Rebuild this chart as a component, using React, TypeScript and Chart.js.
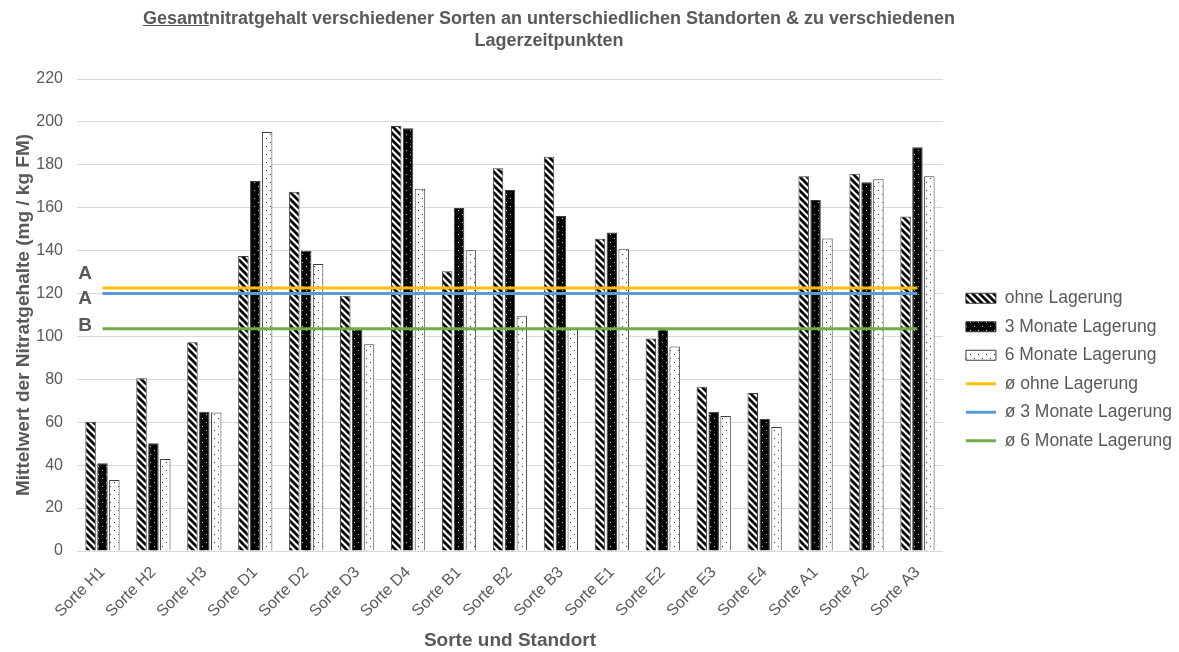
import React, { useEffect, useRef } from 'react';
import { Chart, registerables } from 'chart.js';

Chart.register(...registerables);

// ---------- data ----------
const categories = [
  'Sorte H1', 'Sorte H2', 'Sorte H3', 'Sorte D1', 'Sorte D2', 'Sorte D3', 'Sorte D4',
  'Sorte B1', 'Sorte B2', 'Sorte B3', 'Sorte E1', 'Sorte E2', 'Sorte E3', 'Sorte E4',
  'Sorte A1', 'Sorte A2', 'Sorte A3',
];
const ohneLagerung = [60.3, 80.5, 97.3, 137.5, 167.5, 119.0, 198.1, 130.4, 178.4, 183.8, 145.5, 99.0, 76.5, 73.7, 174.7, 175.8, 155.9];
const monate3Lagerung = [40.9, 50.2, 64.9, 172.5, 139.9, 103.3, 197.0, 159.9, 168.3, 156.2, 148.4, 103.3, 64.9, 61.5, 163.6, 171.9, 188.2];
const monate6Lagerung = [33.1, 42.9, 64.5, 195.3, 133.8, 96.4, 168.8, 140.2, 109.4, 103.3, 140.9, 95.3, 62.9, 57.8, 145.6, 173.3, 174.7];
const barSeriesNames = ['ohne Lagerung', '3 Monate Lagerung', '6 Monate Lagerung'];
const meanSeriesNames = ['ø ohne Lagerung', 'ø 3 Monate Lagerung', 'ø 6 Monate Lagerung'];
const meanValues = [122.6, 120.0, 103.6];
const meanLetters = ['A', 'A', 'B'];
const yMin = 0;
const yMax = 220;
const yStep = 20;
const titleLine1Underlined = 'Gesamt';
const titleLine1Rest = 'nitratgehalt verschiedener Sorten an unterschiedlichen Standorten & zu verschiedenen';
const titleLine2 = 'Lagerzeitpunkten';
const yAxisTitle = 'Mittelwert der Nitratgehalte (mg / kg FM)';
const xAxisTitle = 'Sorte und Standort';

// ---------- styling ----------
const FONT = '"Liberation Sans", Arial, sans-serif';
const TEXT = '#595959';
const GRID = '#d9d9d9';
const BORDER = '#3c3c3c';
const LINE_COLORS = ['#FFC000', '#5B9BD5', '#70AD47'];
const LETTER_OFFSETS = [-14, 5, -3];

function makePattern(kind: string): CanvasPattern | string {
  const c = document.createElement('canvas');
  const ctx = c.getContext('2d');
  if (!ctx) return '#888';
  if (kind === 'stripes') {
    const s = 7;
    c.width = s; c.height = s;
    ctx.fillStyle = '#ffffff';
    ctx.fillRect(0, 0, s, s);
    ctx.strokeStyle = '#000000';
    ctx.lineWidth = 2.8;
    ctx.beginPath();
    for (const k of [-s, 0, s]) {
      ctx.moveTo(k - 1, -1);
      ctx.lineTo(k + s + 1, s + 1);
    }
    ctx.stroke();
  } else if (kind === 'darkdots') {
    c.width = 8; c.height = 8;
    ctx.fillStyle = '#000000';
    ctx.fillRect(0, 0, 8, 8);
    ctx.fillStyle = '#d0d0d0';
    ctx.fillRect(2, 2, 1, 1);
    ctx.fillRect(6, 6, 1, 1);
  } else {
    c.width = 8; c.height = 8;
    ctx.fillStyle = '#ffffff';
    ctx.fillRect(0, 0, 8, 8);
    ctx.fillStyle = '#333333';
    ctx.fillRect(2, 2, 1, 1);
    ctx.fillRect(6, 6, 1, 1);
  }
  const p = ctx.createPattern(c, 'repeat');
  return p || '#888';
}

const letterPlugin = {
  id: 'meanLetters',
  afterDatasetsDraw(chart: any) {
    const y = chart.scales.y;
    const ctx = chart.ctx;
    ctx.save();
    ctx.fillStyle = TEXT;
    ctx.font = `bold 19px ${FONT}`;
    ctx.textAlign = 'center';
    ctx.textBaseline = 'middle';
    meanLetters.forEach((letter, i) => {
      ctx.fillText(letter, chart.chartArea.left + 8, y.getPixelForValue(meanValues[i]) + LETTER_OFFSETS[i]);
    });
    ctx.restore();
  },
};

const legendShiftPlugin = {
  id: 'legendShift',
  afterLayout(chart: any) {
    const lg = chart.legend;
    if (lg) {
      lg.left += 12;
      lg.right += 12;
      lg.top += 4;
      lg.bottom += 4;
    }
  },
};

export default function App() {
  const canvasRef = useRef<HTMLCanvasElement | null>(null);

  useEffect(() => {
    document.body.style.margin = '0';
    const canvas = canvasRef.current;
    if (!canvas) return;
    const patterns = [makePattern('stripes'), makePattern('darkdots'), makePattern('lightdots')];
    const barValues = [ohneLagerung, monate3Lagerung, monate6Lagerung];

    const barDatasets = barSeriesNames.map((name, i) => ({
      type: 'bar' as const,
      label: name,
      data: barValues[i],
      backgroundColor: patterns[i],
      borderColor: BORDER,
      borderWidth: 1,
      pointStyle: 'rect',
      categoryPercentage: 0.7,
      barPercentage: 0.88,
      order: 2,
    }));
    const lineDatasets = meanSeriesNames.map((name, i) => ({
      type: 'line' as const,
      label: name,
      data: categories.map(() => meanValues[i]),
      borderColor: LINE_COLORS[i],
      backgroundColor: LINE_COLORS[i],
      borderWidth: 3,
      pointRadius: 0,
      pointHoverRadius: 0,
      pointStyle: 'line',
      fill: false,
      order: 1,
    }));

    const chart = new Chart(canvas, {
      type: 'bar',
      data: { labels: categories, datasets: [...barDatasets, ...lineDatasets] as any },
      options: {
        animation: false,
        responsive: false,
        maintainAspectRatio: false,
        layout: { padding: { top: 79, left: 0, right: 9, bottom: 0 } },
        plugins: {
          title: { display: false },
          tooltip: { enabled: false },
          legend: {
            position: 'right',
            align: 'center',
            labels: {
              usePointStyle: true,
              pointStyleWidth: 30,
              boxHeight: 10,
              padding: 11,
              color: TEXT,
              font: { family: FONT, size: 17.5 },
              sort: (a: any, b: any) => a.datasetIndex - b.datasetIndex,
            },
          },
        },
        scales: {
          x: {
            grid: { display: false },
            border: { display: true, color: GRID },
            ticks: {
              color: TEXT,
              font: { family: FONT, size: 16 },
              minRotation: 45,
              maxRotation: 45,
              padding: 4,
            },
            title: {
              display: true,
              text: xAxisTitle,
              color: TEXT,
              font: { family: FONT, size: 19, weight: 'bold' },
              padding: { top: 5, bottom: 0 },
            },
            afterFit: (scale: any) => { scale.height = 652 - 551; },
          },
          y: {
            min: yMin,
            max: yMax,
            grid: { color: GRID, drawTicks: false },
            border: { display: false },
            ticks: {
              stepSize: yStep,
              color: TEXT,
              font: { family: FONT, size: 16 },
              padding: 14,
            },
            title: {
              display: true,
              text: yAxisTitle,
              color: TEXT,
              font: { family: FONT, size: 19, weight: 'bold' },
              padding: { top: 12, bottom: 0 },
            },
            afterFit: (scale: any) => { scale.width = 77; },
          },
        },
      },
      plugins: [letterPlugin, legendShiftPlugin],
    });
    return () => chart.destroy();
  }, []);

  return (
    <div style={{ position: 'relative', width: 1179, height: 652, background: '#fff', overflow: 'hidden' }}>
      <canvas ref={canvasRef} width={1179} height={652} style={{ position: 'absolute', left: 0, top: 0 }} />
      <div
        style={{
          position: 'absolute',
          left: 0,
          top: 7,
          width: 1098,
          textAlign: 'center',
          fontFamily: FONT,
          fontWeight: 'bold',
          fontSize: 18,
          lineHeight: '22px',
          color: TEXT,
          whiteSpace: 'nowrap',
        }}
      >
        <span style={{ textDecoration: 'underline' }}>{titleLine1Underlined}</span>
        {titleLine1Rest}
        <br />
        {titleLine2}
      </div>
    </div>
  );
}
